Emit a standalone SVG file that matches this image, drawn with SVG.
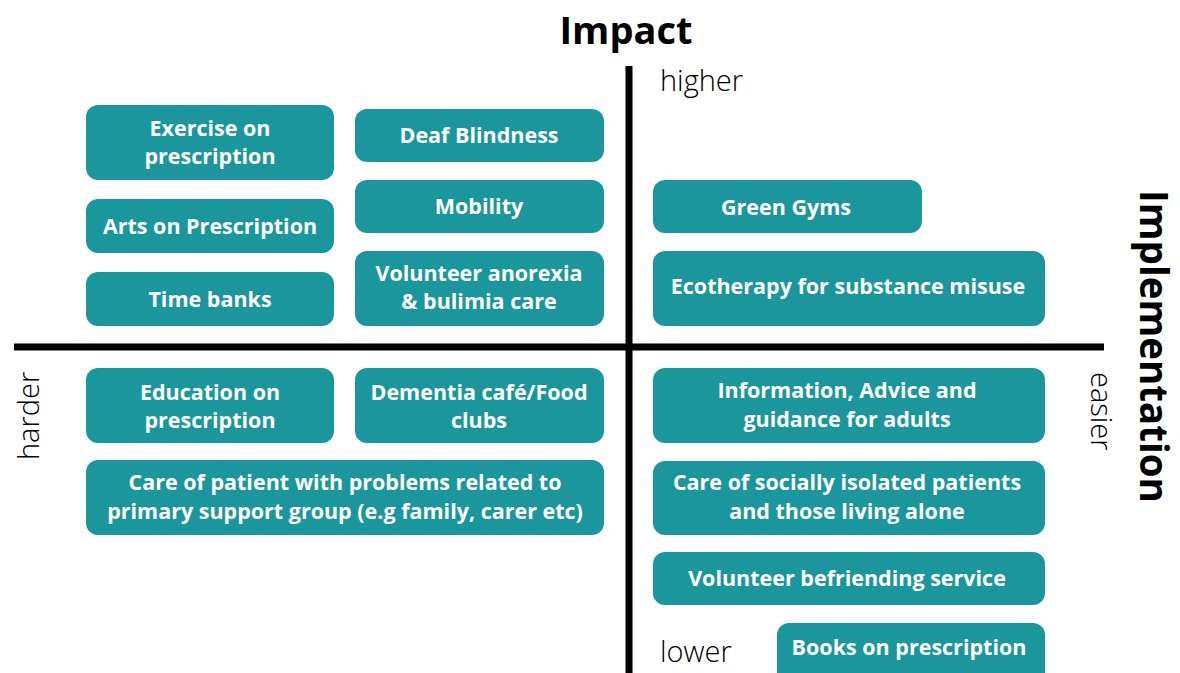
<svg xmlns="http://www.w3.org/2000/svg" width="1180" height="673" viewBox="0 0 1180 673">
<style>
.box{fill:#1b969c}
.t{font-family:"Open Sans","Liberation Sans",sans-serif;font-weight:700;font-size:21.5px;fill:#fff;text-anchor:middle}
.lab{font-family:"Open Sans","Liberation Sans",sans-serif;font-weight:300;font-size:29px;fill:#000}
.title{font-family:"Open Sans","Liberation Sans",sans-serif;font-weight:700;font-size:38px;fill:#000}
.axis{stroke:#000;stroke-width:7;fill:none}
</style>
<rect width="1180" height="673" fill="#fff"/>
<g id="axes">
<line class="axis" x1="14" y1="347" x2="1104" y2="347"/>
<line class="axis" x1="629" y1="66" x2="629" y2="673"/>
</g>
<g id="labels">
<text class="title" x="626" y="44" text-anchor="middle">Impact</text>
<text class="title" transform="translate(1140,190) rotate(90)" style="font-size:38.5px">Implementation</text>
<text class="lab" x="660" y="91">higher</text>
<text class="lab" x="660" y="662">lower</text>
<text class="lab" transform="translate(39,460) rotate(-90)">harder</text>
<text class="lab" transform="translate(1091,372) rotate(90)">easier</text>
</g>
<g id="n1"><rect class="box" x="86" y="105" width="248" height="75" rx="12"/><text class="t" x="210" y="136">Exercise on</text><text class="t" x="210" y="164">prescription</text></g>
<g id="n2"><rect class="box" x="86" y="199" width="248" height="54" rx="12"/><text class="t" x="210" y="234">Arts on Prescription</text></g>
<g id="n3"><rect class="box" x="86" y="272" width="248" height="54" rx="12"/><text class="t" x="210" y="307">Time banks</text></g>
<g id="n4"><rect class="box" x="355" y="109" width="249" height="53" rx="12"/><text class="t" x="479" y="143">Deaf Blindness</text></g>
<g id="n5"><rect class="box" x="355" y="180" width="249" height="53" rx="12"/><text class="t" x="479" y="214">Mobility</text></g>
<g id="n6"><rect class="box" x="355" y="251" width="249" height="75" rx="12"/><text class="t" x="479" y="281">Volunteer anorexia</text><text class="t" x="479" y="309">&amp; bulimia care</text></g>
<g id="n7"><rect class="box" x="653" y="180" width="269" height="53" rx="12"/><text class="t" x="786" y="215">Green Gyms</text></g>
<g id="n8"><rect class="box" x="653" y="251" width="392" height="75" rx="12"/><text class="t" x="848" y="294">Ecotherapy for substance misuse</text></g>
<g id="n9"><rect class="box" x="86" y="368" width="248" height="75" rx="12"/><text class="t" x="210" y="400">Education on</text><text class="t" x="210" y="428">prescription</text></g>
<g id="n10"><rect class="box" x="355" y="368" width="249" height="75" rx="12"/><text class="t" x="479" y="400">Dementia café/Food</text><text class="t" x="479" y="428">clubs</text></g>
<g id="n11"><rect class="box" x="86" y="460" width="518" height="75" rx="12"/><text class="t" x="345" y="490">Care of patient with problems related to</text><text class="t" x="345" y="519">primary support group (e.g family, carer etc)</text></g>
<g id="n12"><rect class="box" x="653" y="368" width="392" height="75" rx="12"/><text class="t" x="847" y="398">Information, Advice and</text><text class="t" x="847" y="427">guidance for adults</text></g>
<g id="n13"><rect class="box" x="653" y="461" width="392" height="74" rx="12"/><text class="t" x="847" y="490">Care of socially isolated patients</text><text class="t" x="847" y="519">and those living alone</text></g>
<g id="n14"><rect class="box" x="653" y="552" width="392" height="53" rx="12"/><text class="t" x="847" y="586">Volunteer befriending service</text></g>
<g id="n15"><rect class="box" x="777" y="623" width="268" height="62" rx="12"/><text class="t" x="909" y="655">Books on prescription</text></g>
</svg>
